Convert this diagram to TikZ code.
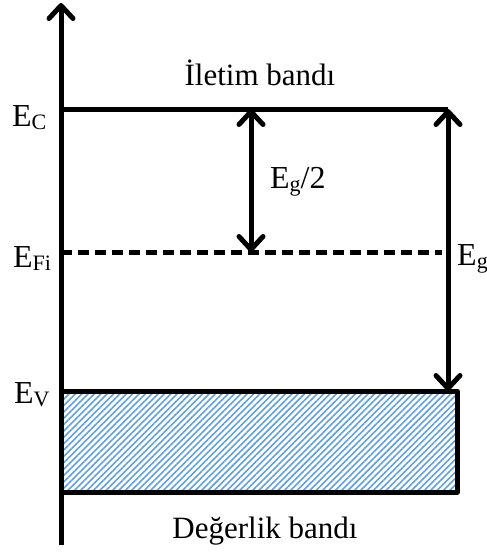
\documentclass[tikz,border=0pt]{standalone}
\usepackage{fontspec}
\setmainfont{Liberation Serif}
\usepackage{xcolor}
\usetikzlibrary{arrows.meta,patterns.meta,positioning,calc}
\definecolor{hatchblue}{RGB}{100, 160, 215}
\newcommand{\lvl}[2]{#1\raisebox{-3pt}{\fontsize{22}{24}\selectfont #2}}

\begin{document}
\begin{tikzpicture}[
    x=1pt, y=-1pt,
    >={Straight Barb[length=13pt, width=24pt, line cap=round, line join=round]},
    level/.style={line width=5pt},
    fermi/.style={line width=5pt, dash pattern=on 11pt off 6pt},
    gaparrow/.style={<->, line width=5pt},
    band/.style={line width=5pt, line join=round, pattern={Lines[angle=45, distance=4.5pt, line width=1.6pt]}, pattern color=hatchblue},
    lbl/.style={inner sep=0pt, anchor=base west, font=\fontsize{32}{36}\selectfont},
    bandlbl/.style={inner sep=0pt, anchor=base, font=\fontsize{31}{36}\selectfont}
]
    \useasboundingbox (0,0) rectangle (487,552);

    % Valence band (hatched)
    \draw[band] (61,391) rectangle (457,492);

    % Energy axis
    \coordinate (bottom) at (61,545);
    \coordinate (top) at (61,3);
    \draw[->, line width=5pt] (bottom) -- (top);

    % Levels
    \coordinate (ecl) at (61,109);
    \coordinate (ecr) at (448,109);
    \coordinate (efl) at (61,252);
    \coordinate (efr) at (442,252);
    \coordinate (evr) at (448,391);
    \draw[level] (ecl) -- (ecr);
    \draw[fermi] (efl) -- (efr);

    % Gap arrows
    \coordinate (halftop) at (251,109);
    \coordinate (halfbot) at (251,252);
    \draw[gaparrow] (halftop) -- (halfbot);
    \draw[gaparrow] (ecr) -- (evr);

    % Labels
    \node[lbl] (ec) at (12,126) {\lvl{E}{C}};
    \node[lbl] (efi) at (13,267) {\lvl{E}{Fi}};
    \node[lbl] (ev) at (14,403) {\lvl{E}{V}};
    \node[lbl] (eghalf) at (270,188) {\lvl{E}{g}/2};
    \node[lbl] (eg) at (457,265) {\lvl{E}{g}};
    \node[bandlbl] (cond) at (260,85) {İletim bandı};
    \node[bandlbl] (val) at (265,538) {Değerlik bandı};
\end{tikzpicture}
\end{document}
